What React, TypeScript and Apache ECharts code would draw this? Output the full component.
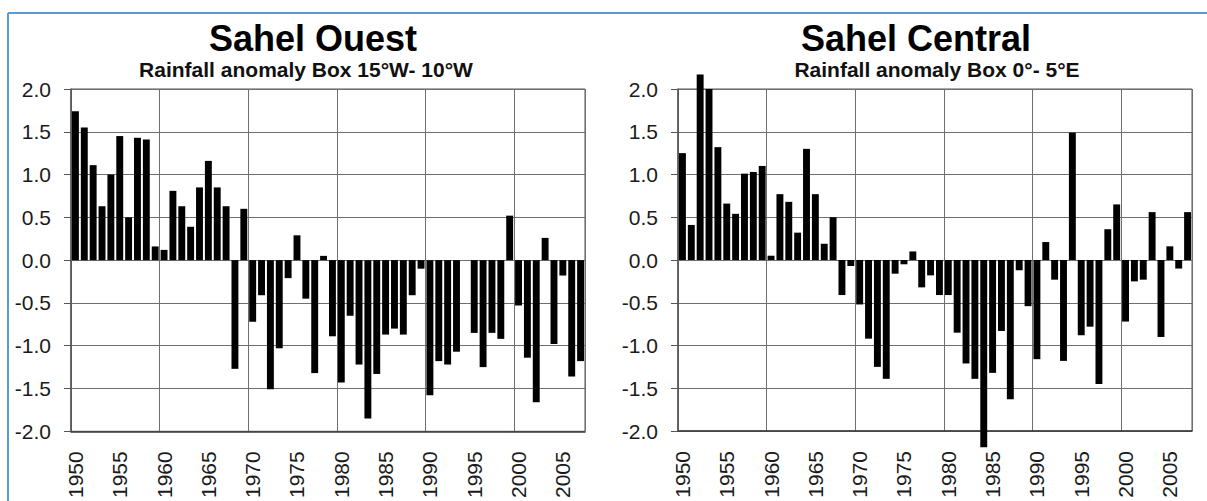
import React, { useEffect, useRef } from 'react';
import * as echarts from 'echarts';

const years = [
  '1950', '1951', '1952', '1953', '1954', '1955', '1956', '1957', '1958', '1959',
  '1960', '1961', '1962', '1963', '1964', '1965', '1966', '1967', '1968', '1969',
  '1970', '1971', '1972', '1973', '1974', '1975', '1976', '1977', '1978', '1979',
  '1980', '1981', '1982', '1983', '1984', '1985', '1986', '1987', '1988', '1989',
  '1990', '1991', '1992', '1993', '1994', '1995', '1996', '1997', '1998', '1999',
  '2000', '2001', '2002', '2003', '2004', '2005', '2006', '2007',
];

const sahelOuest = [
  1.74, 1.55, 1.11, 0.63, 1.0, 1.45, 0.5, 1.43, 1.41, 0.16,
  0.12, 0.81, 0.63, 0.39, 0.85, 1.16, 0.85, 0.63, -1.27, 0.6,
  -0.72, -0.41, -1.51, -1.03, -0.21, 0.29, -0.45, -1.32, 0.05, -0.89,
  -1.43, -0.65, -1.22, -1.85, -1.33, -0.87, -0.8, -0.87, -0.41, -0.1,
  -1.58, -1.18, -1.22, -1.07, 0, -0.85, -1.25, -0.85, -0.92, 0.52,
  -0.53, -1.14, -1.66, 0.26, -0.98, -0.18, -1.36, -1.18,
];

const sahelCentral = [
  1.25, 0.41, 2.17, 2.0, 1.32, 0.66, 0.54, 1.01, 1.03, 1.1,
  0.05, 0.77, 0.68, 0.32, 1.3, 0.77, 0.19, 0.5, -0.41, -0.07,
  -0.52, -0.92, -1.25, -1.39, -0.16, -0.05, 0.1, -0.32, -0.18, -0.41,
  -0.41, -0.85, -1.21, -1.39, -2.19, -1.32, -0.83, -1.63, -0.12, -0.54,
  -1.16, 0.21, -0.23, -1.18, 1.49, -0.88, -0.78, -1.45, 0.36, 0.65,
  -0.72, -0.25, -0.23, 0.56, -0.9, 0.16, -0.1, 0.56,
];

const titles = ['Sahel Ouest', 'Sahel Central'];
const subtitles = ['Rainfall anomaly Box 15°W- 10°W', 'Rainfall anomaly Box 0°- 5°E'];

const FONT = '"Liberation Sans", Arial, sans-serif';

function makeX(gridIndex: number) {
  return {
    type: 'category',
    gridIndex,
    data: years,
    boundaryGap: true,
    axisLine: { show: true, onZero: false, lineStyle: { color: '#3a3a3a', width: 1.5 } },
    axisTick: { show: false },
    axisLabel: {
      interval: (i: number) => i % 5 === 0,
      rotate: 90,
      fontSize: 21,
      fontFamily: FONT,
      color: '#1a1a1a',
      margin: 20,
    },
    splitLine: {
      show: true,
      interval: (i: number) => i % 10 === 0,
      lineStyle: { color: '#6f6f6f', width: 1 },
    },
  };
}

function makeY(gridIndex: number) {
  return {
    type: 'value',
    gridIndex,
    min: -2,
    max: 2,
    interval: 0.5,
    axisLine: { show: true, lineStyle: { color: '#555', width: 1.5 } },
    axisTick: { show: true, length: 7, lineStyle: { color: '#555' } },
    axisLabel: {
      formatter: (v: number) => v.toFixed(1),
      fontSize: 21,
      fontFamily: FONT,
      color: '#1a1a1a',
      margin: 20,
    },
    splitLine: { show: true, lineStyle: { color: '#6f6f6f', width: 1 } },
  };
}

export default function App() {
  const ref = useRef<HTMLDivElement>(null);
  useEffect(() => {
    if (!ref.current) return;
    const chart = echarts.init(ref.current, undefined, { renderer: 'svg' });
    chart.setOption({
      animation: false,
      backgroundColor: '#ffffff',
      grid: [
        { left: 71, top: 89, width: 514, height: 344, show: true, borderColor: '#555', borderWidth: 1 },
        { left: 678, top: 89, width: 514, height: 342, show: true, borderColor: '#555', borderWidth: 1 },
      ],
      xAxis: [makeX(0), makeX(1)],
      yAxis: [makeY(0), makeY(1)],
      series: [
        {
          type: 'bar',
          xAxisIndex: 0,
          yAxisIndex: 0,
          data: sahelOuest,
          barCategoryGap: '22%',
          clip: false,
          itemStyle: { color: '#000' },
        },
        {
          type: 'bar',
          xAxisIndex: 1,
          yAxisIndex: 1,
          data: sahelCentral,
          barCategoryGap: '22%',
          clip: false,
          itemStyle: { color: '#000' },
        },
      ],
      graphic: [
        { type: 'line', shape: { x1: 8, y1: 13, x2: 1207, y2: 13 }, style: { stroke: '#5b9bd5', lineWidth: 2 } },
        { type: 'line', shape: { x1: 8, y1: 13, x2: 8, y2: 501 }, style: { stroke: '#5b9bd5', lineWidth: 2 } },
        {
          type: 'text', x: 313, y: 38,
          style: { text: titles[0], font: `bold 36px ${FONT}`, fill: '#000', align: 'center', verticalAlign: 'middle', lineHeight: 36 },
        },
        {
          type: 'text', x: 306, y: 69,
          style: { text: subtitles[0], font: `bold 21px ${FONT}`, fill: '#111', align: 'center', verticalAlign: 'middle', lineHeight: 21 },
        },
        {
          type: 'text', x: 916, y: 38,
          style: { text: titles[1], font: `bold 36px ${FONT}`, fill: '#000', align: 'center', verticalAlign: 'middle', lineHeight: 36 },
        },
        {
          type: 'text', x: 937, y: 69,
          style: { text: subtitles[1], font: `bold 21px ${FONT}`, fill: '#111', align: 'center', verticalAlign: 'middle', lineHeight: 21 },
        },
      ],
    });
    return () => chart.dispose();
  }, []);
  return (
    <div
      ref={ref}
      style={{ position: 'absolute', left: 0, top: 0, width: 1207, height: 501, background: '#fff' }}
    />
  );
}
